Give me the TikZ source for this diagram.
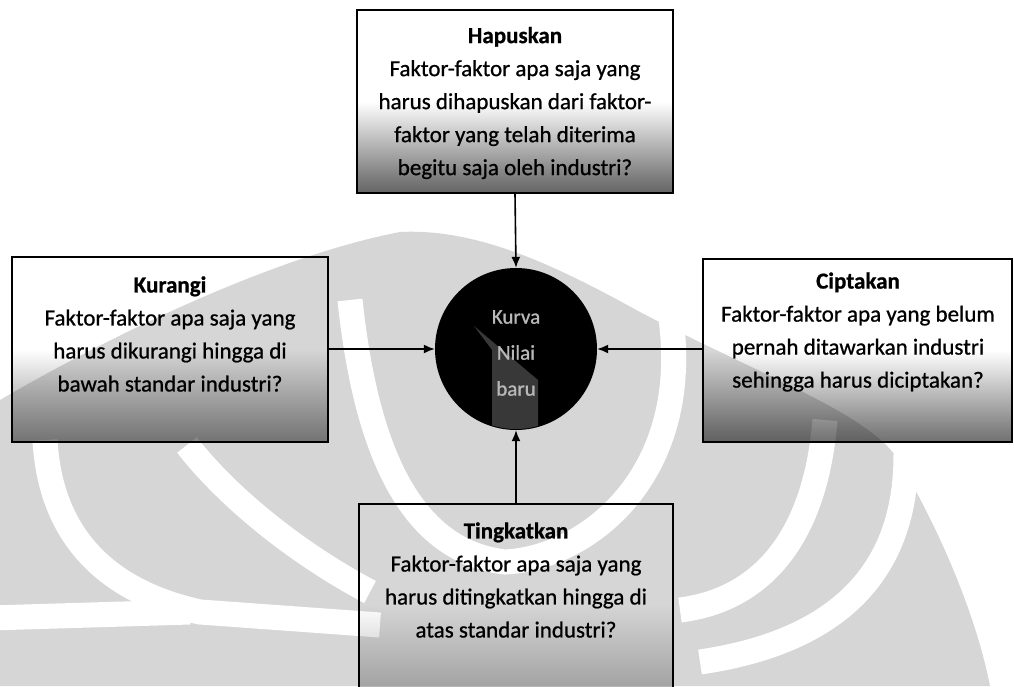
\documentclass[tikz,border=0pt]{standalone}
\usepackage{fontspec}
\setmainfont{Carlito}[RawFeature={embolden=0.8}]
\usetikzlibrary{arrows.meta,fadings}
\pgfdeclareverticalshading{boxfadeshade}{100bp}{color(0bp)=(white); color(12bp)=(white!90!black); color(30bp)=(white!50!black); color(50bp)=(black); color(100bp)=(black)}
\pgfdeclarefading{boxfade}{\pgfuseshading{boxfadeshade}}
\definecolor{wm}{gray}{0.84}
\tikzset{
  boxst/.style={draw=black, line width=1.8pt, rectangle, inner sep=0pt},
  boxtext/.style={align=center, font=\fontsize{23}{33}\selectfont, inner sep=0pt},
  arr/.style={line width=1.6pt, -{Latex[length=11pt,width=9pt]}},
  band/.style={draw=white, line width=25pt},
  fadefill/.style={path fading=boxfade, fit fading=true}
}
\begin{document}
\begin{tikzpicture}[x=1pt,y=-1pt]
\useasboundingbox (0,0) rectangle (1014,686);
\clip (0,0) rectangle (1014,686);
\fill[white] (0,0) rectangle (1014,686);
% watermark
\fill[wm] (0,686) -- (0,400) .. controls (120,330) and (280,255) .. (400,232) .. controls (480,228) and (560,268) .. (640,312) .. controls (760,375) and (860,410) .. (895,455) .. controls (935,520) and (975,610) .. (990,686) -- cycle;
\draw[band] (45,440) .. controls (50,530) and (100,590) .. (200,612) -- (380,625);
\draw[band] (-10,618) -- (190,612);
\draw[band] (187,445) .. controls (230,500) and (300,555) .. (370,592);
\draw[band] (825,420) .. controls (815,540) and (760,600) .. (680,610);
\draw[band] (905,430) .. controls (915,560) and (850,640) .. (700,662);
\draw[band] (350,300) .. controls (368,470) and (420,552) .. (505,562) .. controls (590,558) and (700,470) .. (668,300);
% boxes
\node[boxst, minimum width=316pt, minimum height=183pt] (topbox) at (515,101.5) {};
\node[boxst, minimum width=316pt, minimum height=185pt] (leftbox) at (170,349.5) {};
\node[boxst, minimum width=309pt, minimum height=183pt] (rightbox) at (857.5,350.5) {};
\node[boxst, minimum width=314pt, minimum height=200pt] (botbox) at (516,604) {};
\fill[black, fadefill] (topbox.south west) rectangle (topbox.north east);
\fill[black!80, fadefill] (leftbox.south west) rectangle (leftbox.north east);
\fill[black!92, fadefill] (rightbox.south west) rectangle (rightbox.north east);
\fill[black!55, fadefill] (botbox.south west) rectangle (botbox.north east);
\node[boxst] at (topbox) [minimum width=316pt, minimum height=183pt] {};
\node[boxst] at (leftbox) [minimum width=316pt, minimum height=185pt] {};
\node[boxst] at (rightbox) [minimum width=309pt, minimum height=183pt] {};
\node[boxst] at (botbox) [minimum width=314pt, minimum height=200pt] {};
% centre
\node[circle, fill=black, minimum size=162pt, inner sep=0pt] (circ) at (516,349) {};
\begin{scope}
\clip (516,349) circle (80pt);
\fill[black!78] (474,326) -- (492,350) -- (492,432) -- (538,432) -- (538,380) -- cycle;
\end{scope}
\node[align=center, font=\fontsize{21}{36}\selectfont, text=white!72!black, inner sep=0pt] (circtext) at (516,353) {Kurva\\Nilai\\baru};
% texts
\node[boxtext] (toptext) at (515,103) {\textbf{Hapuskan}\\Faktor-faktor apa saja yang\\harus dihapuskan dari faktor-\\faktor yang telah diterima\\begitu saja oleh industri?};
\node[boxtext] (lefttext) at (170,334) {\textbf{Kurangi}\\Faktor-faktor apa saja yang\\harus dikurangi hingga di\\bawah standar industri?};
\node[boxtext] (righttext) at (858,332) {\textbf{Ciptakan}\\Faktor-faktor apa yang belum\\pernah ditawarkan industri\\sehingga harus diciptakan?};
\node[boxtext] (bottext) at (516,580) {\textbf{Tingkatkan}\\Faktor-faktor apa saja yang\\harus ditingkatkan hingga di\\atas standar industri?};
% connectors
\draw[arr] (topbox.south) -- (circ.north);
\draw[arr] (botbox.north) -- (circ.south);
\draw[arr] (leftbox.east |- circ.west) -- (circ.west);
\draw[arr] (rightbox.west |- circ.east) -- (circ.east);
\end{tikzpicture}
\end{document}
